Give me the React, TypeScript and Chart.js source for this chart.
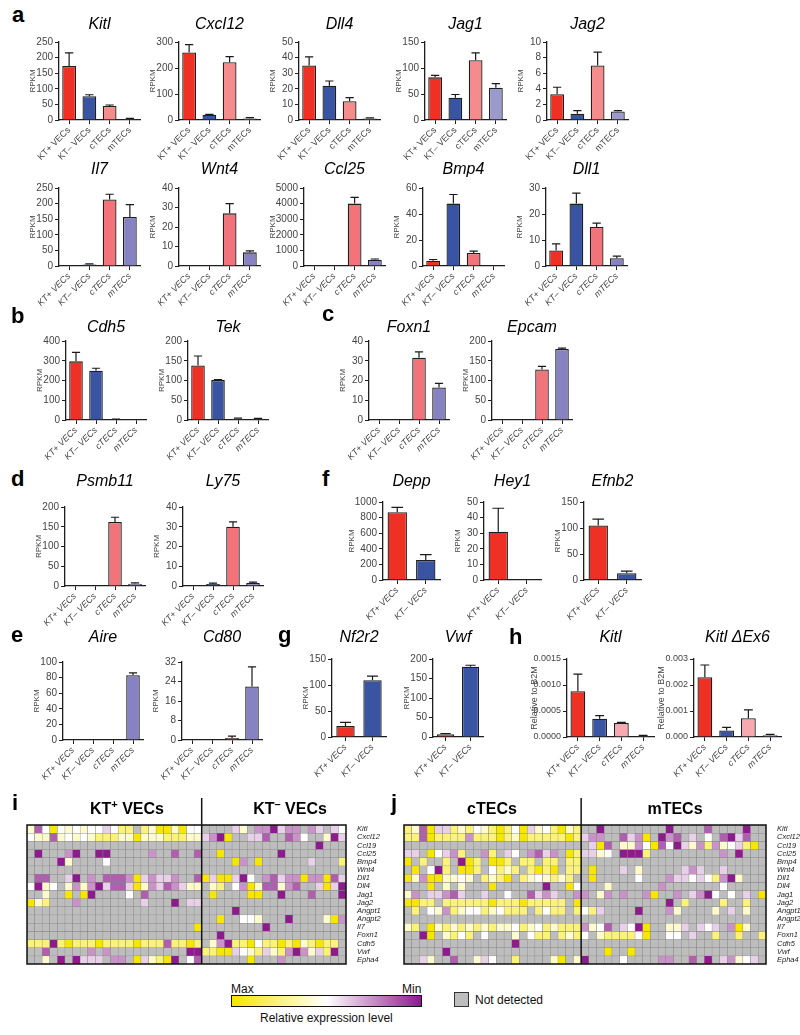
import React, { useEffect, useRef } from 'react';
import { Chart, registerables } from 'chart.js';

Chart.register(...registerables);
const FONT = '"Liberation Sans", Arial, sans-serif';
Chart.defaults.font.family = FONT;

// ---------------- categories ----------------
const CATS4 = ['KT+ VECs', 'KT– VECs', 'cTECs', 'mTECs'];
const CATS2 = ['KT+ VECs', 'KT– VECs'];

// ---------------- panel a (RPKM mean, SEM) ----------------
const kitlRpkm = [173, 76, 45, 3];
const kitlSem = [42, 5, 3, 2];
const cxcl12Rpkm = [260, 20, 222, 6];
const cxcl12Sem = [30, 2, 22, 3];
const dll4Rpkm = [35, 22, 12, 1];
const dll4Sem = [5.5, 3, 2.3, 0.3];
const jag1Rpkm = [82, 43, 115, 62];
const jag1Sem = [4, 6, 14, 8];
const jag2Rpkm = [3.3, 0.8, 7, 1.1];
const jag2Sem = [0.9, 0.4, 1.7, 0.1];
const il7Rpkm = [0, 5, 213, 157];
const il7Sem = [0, 2, 17, 40];
const wnt4Rpkm = [0, 0, 27, 7];
const wnt4Sem = [0, 0, 5, 0.8];
const ccl25Rpkm = [0, 0, 4000, 400];
const ccl25Sem = [0, 0, 400, 50];
const bmp4Rpkm = [4, 48, 10, 0];
const bmp4Sem = [1, 7, 1.5, 0];
const dll1Rpkm = [6, 24, 15, 3];
const dll1Sem = [2.5, 4, 1.5, 0.8];
// ---------------- panel b ----------------
const cdh5Rpkm = [297, 250, 3, 0];
const cdh5Sem = [45, 12, 2, 0];
const tekRpkm = [138, 101, 3, 3];
const tekSem = [24, 1, 2, 1];
// ---------------- panel c ----------------
const foxn1Rpkm = [0, 0, 31.5, 16.5];
const foxn1Sem = [0, 0, 3, 2];
const epcamRpkm = [0, 0, 128, 180];
const epcamSem = [0, 0, 8, 2];
// ---------------- panel d ----------------
const psmb11Rpkm = [0, 0, 162, 6];
const psmb11Sem = [0, 0, 12, 2];
const ly75Rpkm = [0, 1, 30, 1.5];
const ly75Sem = [0, 0.5, 2.5, 0.5];
// ---------------- panel f ----------------
const deppRpkm = [870, 255];
const deppSem = [60, 70];
const hey1Rpkm = [31, 0];
const hey1Sem = [15, 0];
const efnb2Rpkm = [105, 13];
const efnb2Sem = [12, 4];
// ---------------- panel e ----------------
const aireRpkm = [0, 0, 0, 83];
const aireSem = [0, 0, 0, 3];
const cd80Rpkm = [0, 0, 0.8, 22];
const cd80Sem = [0, 0, 0.8, 8];
// ---------------- panel g ----------------
const nf2r2Rpkm = [21, 109];
const nf2r2Sem = [7, 8];
const vwfRpkm = [7, 180];
const vwfSem = [2, 4];
// ---------------- panel h (qPCR relative to B2M) ----------------
const kitlQpcr = [0.00088, 0.00035, 0.00027, 0.00002];
const kitlQpcrSem = [0.00033, 0.00006, 0.00001, 0.00001];
const kitlEx6Qpcr = [0.0023, 0.00025, 0.00072, 0.00007];
const kitlEx6QpcrSem = [0.00047, 0.00012, 0.00032, 0.00003];

// ---------------- heatmaps (i, j) ----------------
// codes: Y max (yellow) ... w mid (white) ... M min (purple); g = not detected
const HEAT_GENES = ['Kitl', 'Cxcl12', 'Ccl19', 'Ccl25', 'Bmp4', 'Wnt4', 'Dll1', 'Dll4', 'Jag1', 'Jag2', 'Angpt1', 'Angpt2', 'Il7', 'Foxn1', 'Cdh5', 'Vwf', 'Epha4'];
const LEVEL: Record<string, number> = { Y: 1, y: 0.76, l: 0.6, w: 0.5, q: 0.4, p: 0.26, P: 0.15, M: 0 };
const HEAT_I_KTPOS = [
  'lPwYwlwlwwqwyygylYYlYww',
  'wllPlwlwlyyyllYlllyyyll',
  'ggggggggggggggggggggggg',
  'gMgggpMggMMgggggpggPggP',
  'ggggMlggggwgggggggggggg',
  'ggggggggggggggggggggggg',
  'gPPggqMgpgPPPpYqpqqpggP',
  'wMlwglplpMqPPqYlpqPpqll',
  'gglggYgYMggggwgPggggggg',
  'YlygggpggggggggqgggMgqq',
  'ggggggggggggggggggggggg',
  'ggggggggggggggggggggggg',
  'ggggggggggggggggggggggY',
  'ggggggggggggggggggggggg',
  'yyyMyYyyyYyyyyYyyyPyyYy',
  'ggPgggggpgpggggggggggMM',
  'gglgMgMqqqgppgYqlyYMgwP',
];
const HEAT_I_KTNEG = [
  'ggggqlgppMqppgpqgqw',
  'qpMYggqqPggPpwgglMq',
  'gggggggggggggggMggg',
  'ggYgggggggMgggggggg',
  'ggggYpgYggggggqgggy',
  'ggggggggggggggggggg',
  'YqYYqMwgpPqppYppYPq',
  'glygwpYlPPlpPggqYqM',
  'gYggggYYggMgggPgggM',
  'ggggggggggggggggggg',
  'ggggMgggggggggggggg',
  'ggYggwwlgggMgggglYp',
  'ggggggggMgggggggggg',
  'ggMgggggggggggggggg',
  'glpMyyYwyyYyYlyYyyg',
  'yyYYqwlyqlypMplqyMg',
  'ggggggYgggpgggggggg',
];
const HEAT_J_CTEC = [
  'ylPYqqylywlyYywYqlwyYly',
  'yyPYyyyypyyyYylYyyyyyYy',
  'ggggggggggggggggggggggg',
  'qqgYwqpyggpygqwgpPqpgYy',
  'YgyggygMYygYYygyygyygyy',
  'gYgwMygYYygwylygyYyYgyy',
  'YlpYYllwlgylyYgylwlylyg',
  'gggYglglgggYggggggMggYw',
  'lpgqqpPqggqggwggPqpqggp',
  'YYyygyyyyyyYyyyYyyyyygY',
  'gygwlpylwwylwyyygywyygy',
  'ggggggggggggggggggggggg',
  'lygYlylylylyllwylwylyyy',
  'ggMYglywygwggglgwyygyly',
  'ggggggggggggggMgggggggg',
  'gggggMggggggggggggggggg',
  'ggqlggPgglqwggygggglYgl',
];
const HEAT_J_MTEC = [
  'ggMggggggggMggggPggggMgg',
  'qppggPqpYgMpPgqgwgPMqPgg',
  'gqYPgllpwYPwMqlpyplwqyYg',
  'qqlwgMMMygggggggggpgMggg',
  'gggggggggggggggggggggggg',
  'gYgggqglgggggqpqggqggggg',
  'gYgggggwgggpqqwqwypMlggg',
  'ggglggggggpgggggggwggggg',
  'pglpgpggpYggpgqpMwgwgqgY',
  'gggggggggggMgyggggyggygg',
  'wyqggggMgggplgggglgqglgg',
  'gggggggggggggggggggggggg',
  'plwPgqwMYggllqgqwqgpYlgg',
  'wglyyyywYggwwgqggyggyggy',
  'gggggggggggggggggggggggg',
  'gggYggYggggggggggggggggg',
  'MggggwggggppggPgMgqplwqg',
];

// ---------------- colours ----------------
const RED = '#ee3124';
const BLUE = '#3a54a4';
const ROW1_COLORS = [RED, BLUE, '#f58b8b', '#9c9acb'];
const STD_COLORS = [RED, BLUE, '#f2737a', '#8783c3'];
const H_COLORS = [RED, BLUE, '#f7a9b2', '#8783c3'];
const TWO_COLORS = [RED, BLUE];
const YEL = [247, 230, 0];
const PUR = [142, 27, 141];
const GREY = '#bdbdbd';

function levelColor(v: number): string {
  const target = v >= 0.5 ? YEL : PUR;
  const f = Math.abs(v - 0.5) / 0.5;
  const c = target.map((t) => Math.round(255 + (t - 255) * f));
  return `rgb(${c[0]},${c[1]},${c[2]})`;
}
function cellColor(code: string): string {
  return code in LEVEL ? levelColor(LEVEL[code]) : GREY;
}

// ---------------- bar chart specs ----------------
type BarSpec = {
  title: string; cats: string[]; vals: number[]; errs: number[]; colors: string[];
  yMax: number; step: number; dec?: number; yTitle: string; tickSize?: number;
  axisX: number; plotW: number; yw: number; titleY: number; top: number; bottom: number; italicX: boolean;
};

const R1 = { titleY: 25, top: 42, bottom: 120, italicX: false, yTitle: 'RPKM', plotW: 81, yw: 31 };
const R2 = { titleY: 170, top: 188, bottom: 266, italicX: true, yTitle: 'RPKM', plotW: 81, yw: 31 };
const RB = { titleY: 328, top: 341, bottom: 420, italicX: true, yTitle: 'RPKM', plotW: 80, yw: 31 };
const RD = { titleY: 482, top: 507, bottom: 586, italicX: true, yTitle: 'RPKM', plotW: 80, yw: 31 };
const RF = { titleY: 482, top: 502, bottom: 580, italicX: true, yTitle: 'RPKM', plotW: 57, yw: 31 };
const RE = { titleY: 638, top: 662, bottom: 740, italicX: true, yTitle: 'RPKM', plotW: 80, yw: 31 };
const RG = { titleY: 638, top: 659, bottom: 737, italicX: true, yTitle: 'RPKM', plotW: 54, yw: 31 };
const RH = { titleY: 638, top: 659, bottom: 737, italicX: true, yTitle: 'Relative to B2M', plotW: 87, yw: 38, tickSize: 9 };

const BARS: BarSpec[] = [
  { ...R1, title: 'Kitl', cats: CATS4, vals: kitlRpkm, errs: kitlSem, colors: ROW1_COLORS, yMax: 250, step: 50, axisX: 59 },
  { ...R1, title: 'Cxcl12', cats: CATS4, vals: cxcl12Rpkm, errs: cxcl12Sem, colors: ROW1_COLORS, yMax: 300, step: 100, axisX: 179 },
  { ...R1, title: 'Dll4', cats: CATS4, vals: dll4Rpkm, errs: dll4Sem, colors: ROW1_COLORS, yMax: 50, step: 10, axisX: 299 },
  { ...R1, title: 'Jag1', cats: CATS4, vals: jag1Rpkm, errs: jag1Sem, colors: ROW1_COLORS, yMax: 150, step: 50, axisX: 425 },
  { ...R1, title: 'Jag2', cats: CATS4, vals: jag2Rpkm, errs: jag2Sem, colors: ROW1_COLORS, yMax: 10, step: 2, axisX: 547 },
  { ...R2, title: 'Il7', cats: CATS4, vals: il7Rpkm, errs: il7Sem, colors: STD_COLORS, yMax: 250, step: 50, axisX: 59 },
  { ...R2, title: 'Wnt4', cats: CATS4, vals: wnt4Rpkm, errs: wnt4Sem, colors: STD_COLORS, yMax: 40, step: 10, axisX: 179 },
  { ...R2, title: 'Ccl25', cats: CATS4, vals: ccl25Rpkm, errs: ccl25Sem, colors: STD_COLORS, yMax: 5000, step: 1000, axisX: 304, yw: 36 },
  { ...R2, title: 'Bmp4', cats: CATS4, vals: bmp4Rpkm, errs: bmp4Sem, colors: STD_COLORS, yMax: 60, step: 20, axisX: 423 },
  { ...R2, title: 'Dll1', cats: CATS4, vals: dll1Rpkm, errs: dll1Sem, colors: STD_COLORS, yMax: 30, step: 10, axisX: 546 },
  { ...RB, title: 'Cdh5', cats: CATS4, vals: cdh5Rpkm, errs: cdh5Sem, colors: STD_COLORS, yMax: 400, step: 100, axisX: 66 },
  { ...RB, title: 'Tek', cats: CATS4, vals: tekRpkm, errs: tekSem, colors: STD_COLORS, yMax: 200, step: 50, axisX: 188 },
  { ...RB, title: 'Foxn1', cats: CATS4, vals: foxn1Rpkm, errs: foxn1Sem, colors: STD_COLORS, yMax: 40, step: 10, axisX: 369 },
  { ...RB, title: 'Epcam', cats: CATS4, vals: epcamRpkm, errs: epcamSem, colors: STD_COLORS, yMax: 200, step: 50, axisX: 492 },
  { ...RD, title: 'Psmb11', cats: CATS4, vals: psmb11Rpkm, errs: psmb11Sem, colors: STD_COLORS, yMax: 200, step: 50, axisX: 65 },
  { ...RD, title: 'Ly75', cats: CATS4, vals: ly75Rpkm, errs: ly75Sem, colors: STD_COLORS, yMax: 40, step: 10, axisX: 183 },
  { ...RF, title: 'Depp', cats: CATS2, vals: deppRpkm, errs: deppSem, colors: TWO_COLORS, yMax: 1000, step: 200, axisX: 383, yw: 36 },
  { ...RF, title: 'Hey1', cats: CATS2, vals: hey1Rpkm, errs: hey1Sem, colors: TWO_COLORS, yMax: 50, step: 10, axisX: 484 },
  { ...RF, title: 'Efnb2', cats: CATS2, vals: efnb2Rpkm, errs: efnb2Sem, colors: TWO_COLORS, yMax: 150, step: 50, axisX: 584 },
  { ...RE, title: 'Aire', cats: CATS4, vals: aireRpkm, errs: aireSem, colors: STD_COLORS, yMax: 100, step: 20, axisX: 63 },
  { ...RE, title: 'Cd80', cats: CATS4, vals: cd80Rpkm, errs: cd80Sem, colors: STD_COLORS, yMax: 32, step: 8, axisX: 182 },
  { ...RG, title: 'Nf2r2', cats: CATS2, vals: nf2r2Rpkm, errs: nf2r2Sem, colors: TWO_COLORS, yMax: 150, step: 50, axisX: 332 },
  { ...RG, title: 'Vwf', cats: CATS2, vals: vwfRpkm, errs: vwfSem, colors: TWO_COLORS, yMax: 200, step: 50, axisX: 433, plotW: 50 },
  { ...RH, title: 'Kitl', cats: CATS4, vals: kitlQpcr, errs: kitlQpcrSem, colors: H_COLORS, yMax: 0.0015, step: 0.0005, dec: 4, axisX: 567 },
  { ...RH, title: 'Kitl ΔEx6', cats: CATS4, vals: kitlEx6Qpcr, errs: kitlEx6QpcrSem, colors: H_COLORS, yMax: 0.003, step: 0.001, dec: 3, axisX: 694 },
];

const XH = 46;

function MiniBar({ s }: { s: BarSpec }) {
  const ref = useRef<HTMLCanvasElement>(null);
  const left = s.axisX - s.yw;
  const top = s.titleY - 12;
  const padTop = s.top - top;
  const W = s.yw + s.plotW + 3;
  const H = padTop + (s.bottom - s.top) + XH;
  useEffect(() => {
    const errPlugin = {
      id: 'errbars',
      afterDatasetsDraw(chart: any) {
        const meta = chart.getDatasetMeta(0);
        const ys = chart.scales.y;
        const ctx = chart.ctx;
        ctx.save();
        ctx.strokeStyle = '#1a1a1a';
        ctx.lineWidth = 1.2;
        meta.data.forEach((bar: any, i: number) => {
          const e = s.errs[i];
          if (!e) return;
          const v = s.vals[i];
          const y0 = ys.getPixelForValue(v);
          const y1 = ys.getPixelForValue(v + e);
          const hw = bar.width * 0.3;
          ctx.beginPath();
          ctx.moveTo(bar.x, y0);
          ctx.lineTo(bar.x, y1);
          ctx.moveTo(bar.x - hw, y1);
          ctx.lineTo(bar.x + hw, y1);
          ctx.stroke();
        });
        ctx.restore();
      },
    };
    const titlePlugin = {
      id: 'ttl',
      afterDraw(chart: any) {
        const ctx = chart.ctx;
        const a = chart.chartArea;
        ctx.save();
        ctx.font = `italic 16px ${FONT}`;
        ctx.fillStyle = '#000';
        ctx.textAlign = 'center';
        ctx.textBaseline = 'middle';
        ctx.fillText(s.title, (a.left + a.right) / 2, s.titleY - top);
        ctx.restore();
      },
    };
    const chart = new Chart(ref.current as HTMLCanvasElement, {
      type: 'bar',
      data: {
        labels: s.cats,
        datasets: [{
          data: s.vals,
          backgroundColor: s.colors,
          borderColor: '#1e1e1e',
          borderWidth: 1.3,
          barPercentage: 0.68,
          categoryPercentage: 1,
        }],
      },
      options: {
        responsive: false,
        animation: false,
        devicePixelRatio: 1,
        layout: { padding: { top: padTop, right: 3, left: 0, bottom: 0 } },
        plugins: { legend: { display: false }, tooltip: { enabled: false } },
        scales: {
          x: {
            type: 'category',
            grid: { drawOnChartArea: false, offset: false, tickLength: 4, color: '#1e1e1e', lineWidth: 1 },
            border: { color: '#1e1e1e', width: 1.3 },
            ticks: {
              autoSkip: false, minRotation: 45, maxRotation: 45, padding: 1, color: '#444',
              font: { size: 9, style: s.italicX ? 'italic' : 'normal' },
            },
            afterFit: (sc: any) => { sc.height = XH; },
          },
          y: {
            min: 0,
            max: s.yMax,
            grid: { drawOnChartArea: false, tickLength: 4, color: '#1e1e1e', lineWidth: 1 },
            border: { color: '#1e1e1e', width: 1.3 },
            ticks: {
              stepSize: s.step,
              padding: 2,
              color: '#444',
              font: { size: s.tickSize ?? 10 },
              callback: (v: any) => (s.dec != null ? Number(v).toFixed(s.dec) : String(v)),
            },
            title: { display: true, text: s.yTitle, color: '#444', font: { size: s.yTitle === 'RPKM' ? 8 : 9 }, padding: 0 },
            afterFit: (sc: any) => { sc.width = s.yw; },
          },
        },
      } as any,
      plugins: [errPlugin, titlePlugin],
    });
    return () => chart.destroy();
  }, []);
  return (
    <canvas
      ref={ref}
      width={W}
      height={H}
      style={{ position: 'absolute', left, top, width: W, height: H }}
    />
  );
}

// ---------------- heatmaps ----------------
type Seg = { t: string; sup?: boolean };
type HeatSpec = {
  left: string[]; right: string[]; groups: Seg[][]; groupIds: string[]; headerX: number[];
  box: { l: number; t: number; r: number; b: number };
  canvas: { l: number; t: number; r: number; b: number };
  headerY: number; dividerTop: number;
};

const HEATS: HeatSpec[] = [
  {
    left: HEAT_I_KTPOS, right: HEAT_I_KTNEG,
    groups: [[{ t: 'KT' }, { t: '+', sup: true }, { t: ' VECs' }], [{ t: 'KT' }, { t: '–', sup: true }, { t: ' VECs' }]],
    groupIds: ['KT+', 'KT-'],
    headerX: [127, 290],
    box: { l: 27, t: 825, r: 346, b: 964 },
    canvas: { l: 8, t: 794, r: 392, b: 972 },
    headerY: 810, dividerTop: 798,
  },
  {
    left: HEAT_J_CTEC, right: HEAT_J_MTEC,
    groups: [[{ t: 'cTECs' }], [{ t: 'mTECs' }]],
    groupIds: ['cTEC', 'mTEC'],
    headerX: [492, 675],
    box: { l: 404, t: 825, r: 766, b: 964 },
    canvas: { l: 392, t: 794, r: 800, b: 972 },
    headerY: 810, dividerTop: 798,
  },
];

function drawRich(ctx: CanvasRenderingContext2D, segs: Seg[], cx: number, cy: number, size: number) {
  const parts = segs.map((sg) => ({ ...sg, font: `bold ${sg.sup ? Math.round(size * 0.68) : size}px ${FONT}`, w: 0 }));
  let total = 0;
  parts.forEach((p) => { ctx.font = p.font; p.w = ctx.measureText(p.t).width; total += p.w; });
  let x = cx - total / 2;
  ctx.textAlign = 'left';
  ctx.textBaseline = 'middle';
  parts.forEach((p) => {
    ctx.font = p.font;
    ctx.fillText(p.t, x, p.sup ? cy - size * 0.3 : cy);
    x += p.w;
  });
}

function Heatmap({ h }: { h: HeatSpec }) {
  const ref = useRef<HTMLCanvasElement>(null);
  const W = h.canvas.r - h.canvas.l;
  const H = h.canvas.b - h.canvas.t;
  useEffect(() => {
    const nL = h.left[0].length;
    const labels = [
      ...h.left[0].split('').map((_, i) => `${h.groupIds[0]} ${i + 1}`),
      ...h.right[0].split('').map((_, i) => `${h.groupIds[1]} ${i + 1}`),
    ];
    const datasets = HEAT_GENES.map((g, r) => {
      const codes = (h.left[r] + h.right[r]).split('');
      return {
        label: g,
        data: codes.map(() => 1),
        backgroundColor: codes.map(cellColor),
        borderColor: '#858585',
        borderWidth: 0.5,
        borderSkipped: false,
        barPercentage: 1,
        categoryPercentage: 1,
        stack: 'cells',
      };
    });
    const framePlugin = {
      id: 'frame',
      afterDraw(chart: any) {
        const ctx = chart.ctx;
        const a = chart.chartArea;
        const xs = chart.scales.x;
        const dx = (xs.getPixelForValue(nL - 1) + xs.getPixelForValue(nL)) / 2;
        ctx.save();
        ctx.strokeStyle = '#111';
        ctx.lineWidth = 1.5;
        ctx.strokeRect(a.left, a.top, a.right - a.left, a.bottom - a.top);
        ctx.beginPath();
        ctx.moveTo(dx, h.dividerTop - h.canvas.t);
        ctx.lineTo(dx, a.bottom);
        ctx.stroke();
        ctx.fillStyle = '#000';
        const hy = h.headerY - h.canvas.t;
        drawRich(ctx, h.groups[0], h.headerX[0] - h.canvas.l, hy, 16);
        drawRich(ctx, h.groups[1], h.headerX[1] - h.canvas.l, hy, 16);
        ctx.restore();
      },
    };
    const chart = new Chart(ref.current as HTMLCanvasElement, {
      type: 'bar',
      data: { labels, datasets },
      options: {
        responsive: false,
        animation: false,
        devicePixelRatio: 1,
        layout: { padding: { left: h.box.l - h.canvas.l, top: h.box.t - h.canvas.t, bottom: h.canvas.b - h.box.b, right: 0 } },
        plugins: { legend: { display: false }, tooltip: { enabled: false } },
        scales: {
          x: { display: false, stacked: true },
          y: { display: false, stacked: true, min: 0, max: HEAT_GENES.length, reverse: true },
          y2: {
            type: 'category',
            labels: HEAT_GENES,
            position: 'right',
            offset: true,
            grid: { display: false },
            border: { display: false },
            ticks: { autoSkip: false, padding: 3, color: '#222', font: { size: 7.5, style: 'italic' } },
            afterFit: (sc: any) => { sc.width = h.canvas.r - h.box.r; },
          },
        },
      } as any,
      plugins: [framePlugin],
    });
    return () => chart.destroy();
  }, []);
  return (
    <canvas
      ref={ref}
      width={W}
      height={H}
      style={{ position: 'absolute', left: h.canvas.l, top: h.canvas.t, width: W, height: H }}
    />
  );
}

// ---------------- panel letters ----------------
const LETTERS = [
  { t: 'a', x: 12, y: 4 },
  { t: 'b', x: 11, y: 305 },
  { t: 'c', x: 322, y: 303 },
  { t: 'd', x: 11, y: 468 },
  { t: 'f', x: 322, y: 468 },
  { t: 'e', x: 11, y: 624 },
  { t: 'g', x: 278, y: 624 },
  { t: 'h', x: 509, y: 626 },
  { t: 'i', x: 12, y: 792 },
  { t: 'j', x: 391, y: 792 },
];

export default function App() {
  return (
    <div style={{ position: 'absolute', left: 0, top: 0, width: 800, height: 1035, background: '#fff', fontFamily: FONT, overflow: 'hidden' }}>
      {BARS.map((s, i) => <MiniBar key={i} s={s} />)}
      {HEATS.map((h, i) => <Heatmap key={i} h={h} />)}
      {LETTERS.map((l) => (
        <span key={l.t} style={{ position: 'absolute', left: l.x, top: l.y, fontSize: 22, fontWeight: 'bold', lineHeight: '22px', color: '#000' }}>{l.t}</span>
      ))}
      {/* colour legend */}
      <span style={{ position: 'absolute', left: 231, top: 982, fontSize: 12, lineHeight: '14px', color: '#111' }}>Max</span>
      <span style={{ position: 'absolute', left: 402, top: 982, fontSize: 12, lineHeight: '14px', color: '#111' }}>Min</span>
      <div style={{ position: 'absolute', left: 231, top: 995, width: 189, height: 10, border: '1.5px solid #111', background: `linear-gradient(to right, rgb(${YEL.join(',')}), #ffffff 50%, rgb(${PUR.join(',')}))` }} />
      <span style={{ position: 'absolute', left: 260, top: 1011, fontSize: 12, lineHeight: '14px', color: '#111' }}>Relative expression level</span>
      <div style={{ position: 'absolute', left: 454, top: 992, width: 13, height: 13, border: '1.5px solid #333', background: GREY }} />
      <span style={{ position: 'absolute', left: 475, top: 993, fontSize: 12, lineHeight: '14px', color: '#111' }}>Not detected</span>
    </div>
  );
}
